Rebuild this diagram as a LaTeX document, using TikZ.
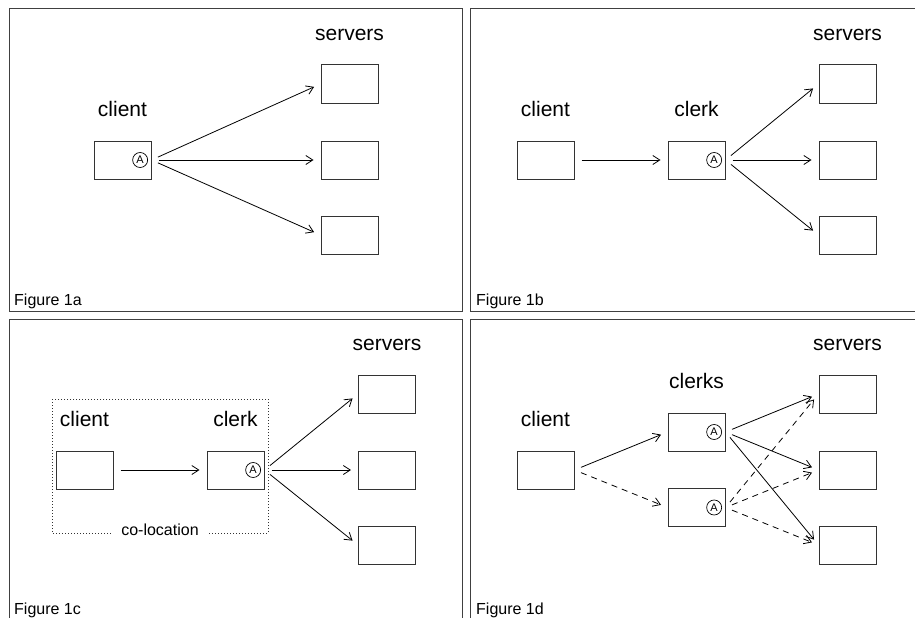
\documentclass[tikz,border=0pt]{standalone}
\usepackage{fontspec}
\setmainfont{Liberation Sans}
\usetikzlibrary{arrows.meta,positioning}

\begin{document}
\begin{tikzpicture}[x=1pt, y=-1pt,
    box/.style={draw=black!80, line width=1pt, minimum width=57pt, minimum height=38pt, inner sep=0pt},
    acirc/.style={draw, circle, line width=0.7pt, minimum size=15pt, inner sep=0pt, font=\fontsize{11}{11}\selectfont},
    lbl/.style={font=\fontsize{21}{21}\selectfont, anchor=base, inner sep=0pt},
    figlbl/.style={font=\fontsize{16}{16}\selectfont, anchor=base west, inner sep=0pt},
    frame/.style={draw=black!75, line width=1pt},
    link/.style={-{Straight Barb[length=7pt,width=9pt]}, line width=0.8pt, shorten <=7pt, shorten >=7pt},
    dlink/.style={link, dash pattern=on 6pt off 5pt}]
  \useasboundingbox (0,0) rectangle (915,618);
  \clip (0,0) rectangle (915,618);
  % panel frames
  \draw[frame] (9,9) rectangle (462,311);
  \draw[frame] (470,9) rectangle (930,311);
  \draw[frame] (9,319) rectangle (462,630);
  \draw[frame] (470,319) rectangle (930,630);

  % Figure 1a
  \node[box] (ca) at (122.5,160) {};
  \node[acirc, left=3.5pt of ca.east] (aa) {A};
  \node[above=24pt of ca.north, lbl] (lca) {client};
  \foreach \y [count=\i] in {84,160,235}
    \node[box] (sa\i) at (349.5,\y) {};
  \node[above=24pt of sa1.north, lbl] (lsa) {servers};
  \foreach \i in {1,2,3}
    \draw[link] (ca.east) -- (sa\i.west);
  \node[figlbl] (fa) at (14,305) {Figure 1a};

  % Figure 1b
  \node[box] (cb) at (545.5,160) {};
  \node[box] (kb) at (696.5,160) {};
  \node[acirc, left=3.5pt of kb.east] (ab) {A};
  \node[above=24pt of cb.north, lbl] (lcb) {client};
  \node[above=24pt of kb.north, lbl] (lkb) {clerk};
  \foreach \y [count=\i] in {84,160,235}
    \node[box] (sb\i) at (847.5,\y) {};
  \node[above=24pt of sb1.north, lbl] (lsb) {servers};
  \draw[link] (cb.east) -- (kb.west);
  \foreach \i in {1,2,3}
    \draw[link] (kb.east) -- (sb\i.west);
  \node[figlbl] (fb) at (476,305) {Figure 1b};

  % Figure 1c
  \draw[draw=black!80, line width=1pt, dash pattern=on 1pt off 2pt] (52,399) rectangle (268,533);
  \node[fill=white, inner xsep=9pt, inner ysep=2pt, anchor=base, font=\fontsize{16}{16}\selectfont] (colo) at (160,535) {co-location};
  \node[box] (cc) at (84.5,470) {};
  \node[box] (kc) at (235.5,470) {};
  \node[acirc, left=3.5pt of kc.east] (ac) {A};
  \node[above=24pt of cc.north, lbl] (lcc) {client};
  \node[above=24pt of kc.north, lbl] (lkc) {clerk};
  \foreach \y [count=\i] in {394,470,545}
    \node[box] (sc\i) at (387,\y) {};
  \node[above=24pt of sc1.north, lbl] (lsc) {servers};
  \draw[link] (cc.east) -- (kc.west);
  \foreach \i in {1,2,3}
    \draw[link] (kc.east) -- (sc\i.west);
  \node[figlbl] (fc) at (14,614) {Figure 1c};

  % Figure 1d
  \node[box] (cd) at (545.5,470) {};
  \node[box] (kd1) at (696.5,432) {};
  \node[box] (kd2) at (696.5,507.5) {};
  \node[acirc, left=3.5pt of kd1.east] (ad1) {A};
  \node[acirc, left=3.5pt of kd2.east] (ad2) {A};
  \node[above=24pt of cd.north, lbl] (lcd) {client};
  \node[above=24pt of kd1.north, lbl] (lkd) {clerks};
  \foreach \y [count=\i] in {394,470,545}
    \node[box] (sd\i) at (847.5,\y) {};
  \node[above=24pt of sd1.north, lbl] (lsd) {servers};
  \draw[link] (cd.east) -- (kd1.west);
  \draw[dlink] (cd.east) -- (kd2.west);
  \foreach \i in {1,2,3} {
    \draw[link] (kd1.east) -- (sd\i.west);
    \draw[dlink] (kd2.east) -- (sd\i.west);
  }
  \node[figlbl] (fd) at (476,614) {Figure 1d};
\end{tikzpicture}
\end{document}
